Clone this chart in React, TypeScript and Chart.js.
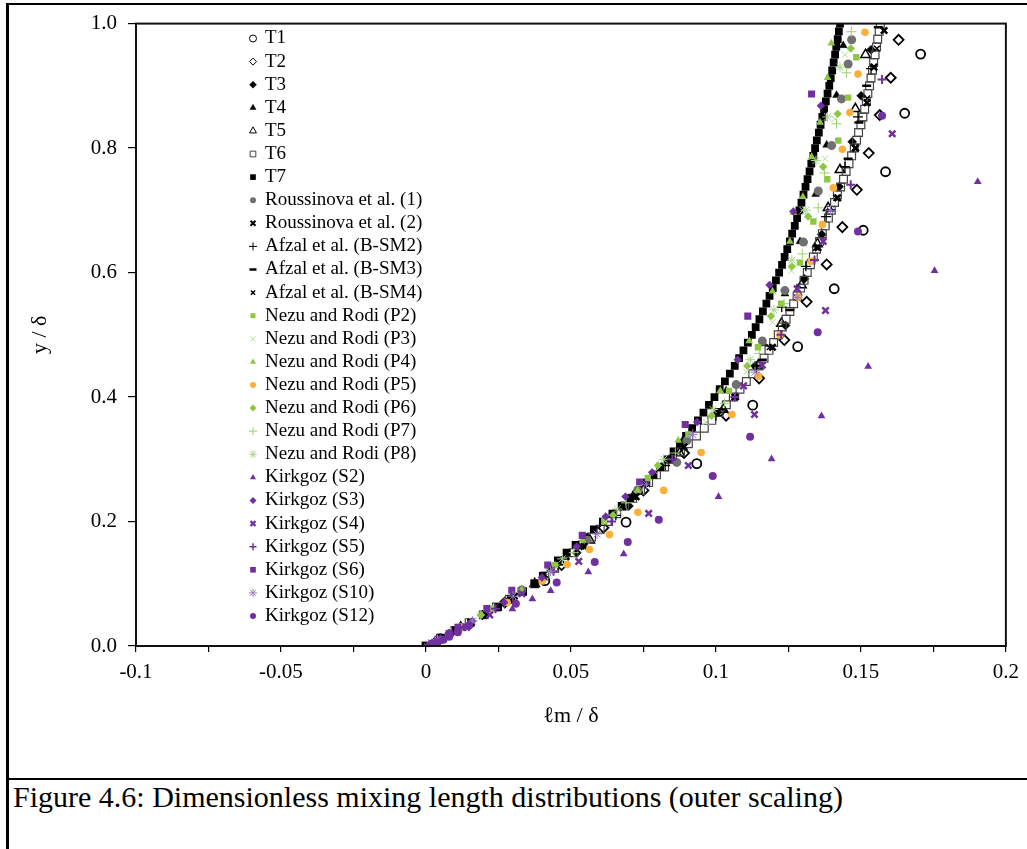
import React, { useEffect, useRef } from 'react';
import { Chart, registerables } from 'chart.js';
import { drawPoint } from 'chart.js/helpers';

Chart.register(...registerables);

// ---------- data ----------
const t67Y = [
  0.0, 0.0125, 0.025, 0.0375, 0.05, 0.0625, 0.075, 0.0875, 0.1, 0.1125, 0.125, 0.1375, 0.15, 0.1625, 0.175, 0.1875,
  0.2, 0.2125, 0.225, 0.2375, 0.25, 0.2625, 0.275, 0.2875, 0.3, 0.3125, 0.325, 0.3375, 0.35, 0.3625, 0.375, 0.3875,
  0.4, 0.4125, 0.425, 0.4375, 0.45, 0.4625, 0.475, 0.4875, 0.5, 0.5125, 0.525, 0.5375, 0.55, 0.5625, 0.575, 0.5875,
  0.6, 0.6125, 0.625, 0.6375, 0.65, 0.6625, 0.675, 0.6875, 0.7, 0.7125, 0.725, 0.7375, 0.75, 0.7625, 0.775, 0.7875,
  0.8, 0.8125, 0.825, 0.8375, 0.85, 0.8625, 0.875, 0.8875, 0.9, 0.9125, 0.925, 0.9375, 0.95, 0.9625, 0.975, 0.9875, 1.0,
];
const t7X = [
  0.0, 0.0051, 0.0103, 0.0155, 0.0203, 0.0249, 0.0293, 0.0335, 0.0375, 0.0403, 0.043, 0.0455, 0.0485, 0.0516, 0.0548, 0.0579,
  0.061, 0.0643, 0.0675, 0.0704, 0.0733, 0.076, 0.0785, 0.0808, 0.0832, 0.0854, 0.0876, 0.0897, 0.0918, 0.0938, 0.0957, 0.0976,
  0.0995, 0.1013, 0.1031, 0.1048, 0.1065, 0.108, 0.1095, 0.111, 0.1124, 0.1137, 0.115, 0.1162, 0.1174, 0.1185, 0.1196, 0.1207,
  0.1218, 0.1228, 0.1237, 0.1246, 0.1255, 0.1263, 0.1272, 0.128, 0.1288, 0.1295, 0.1302, 0.1309, 0.1316, 0.1323, 0.1329, 0.1336,
  0.1342, 0.1348, 0.1355, 0.1361, 0.1367, 0.1373, 0.1379, 0.1385, 0.1391, 0.1396, 0.1401, 0.1406, 0.1411, 0.1415, 0.142, 0.1424, 0.1428,
];
const t6X = [
  0.0, 0.005, 0.01, 0.0149, 0.0198, 0.0243, 0.0288, 0.0332, 0.0375, 0.041, 0.0444, 0.0477, 0.051, 0.0541, 0.0571, 0.0601,
  0.063, 0.0658, 0.0685, 0.0713, 0.074, 0.0768, 0.0795, 0.0823, 0.085, 0.0878, 0.0905, 0.0933, 0.096, 0.0986, 0.1011, 0.1036,
  0.106, 0.1083, 0.1105, 0.1127, 0.1148, 0.1166, 0.1183, 0.1199, 0.1215, 0.1229, 0.1242, 0.1255, 0.1268, 0.128, 0.1292, 0.1304,
  0.1315, 0.1326, 0.1336, 0.1347, 0.1357, 0.1367, 0.1377, 0.1388, 0.1398, 0.1409, 0.1419, 0.143, 0.144, 0.1449, 0.1459, 0.1468,
  0.1477, 0.1485, 0.1492, 0.15, 0.1507, 0.1513, 0.1519, 0.1524, 0.153, 0.1535, 0.154, 0.1544, 0.1549, 0.1554, 0.1558, 0.1563, 0.1567,
];
const t1X = [0.005, 0.041, 0.069, 0.0934, 0.1127, 0.1282, 0.1408, 0.1508, 0.1585, 0.1651, 0.1706];
const t1Y = [0.012, 0.105, 0.199, 0.293, 0.387, 0.481, 0.574, 0.668, 0.762, 0.856, 0.951];
const t2X = [0.0041, 0.0272, 0.0468, 0.0612, 0.075, 0.089, 0.1035, 0.1149, 0.1236, 0.1313, 0.1382, 0.1436, 0.1486, 0.1527, 0.1565, 0.1603, 0.163];
const t2Y = [0.01, 0.07, 0.13, 0.19, 0.25, 0.31, 0.37, 0.43, 0.4915, 0.553, 0.613, 0.673, 0.733, 0.792, 0.853, 0.913, 0.974];
const t3X = [0.0041, 0.029, 0.052, 0.07, 0.085, 0.1005, 0.1135, 0.124, 0.1305, 0.1365, 0.1425, 0.147, 0.1501, 0.1535];
const t3Y = [0.01, 0.075, 0.15, 0.225, 0.3, 0.375, 0.45, 0.515, 0.59, 0.661, 0.738, 0.81, 0.884, 0.958];
const t4X = [0.004, 0.033, 0.0555, 0.0735, 0.0885, 0.1035, 0.1164, 0.1238, 0.129, 0.1344, 0.1382, 0.1416, 0.1439];
const t4Y = [0.01, 0.09, 0.17, 0.25, 0.33, 0.41, 0.486, 0.566, 0.65, 0.726, 0.805, 0.885, 0.965];
const t5X = [0.012, 0.0375, 0.0565, 0.0715, 0.0875, 0.1025, 0.1145, 0.1226, 0.1295, 0.135, 0.1387, 0.1428, 0.1481, 0.1516];
const t5Y = [0.03, 0.1, 0.17, 0.24, 0.31, 0.38, 0.45, 0.518, 0.58, 0.646, 0.704, 0.765, 0.863, 0.95];
const r1X = [0.012, 0.033, 0.0555, 0.073, 0.0865, 0.09, 0.107, 0.116, 0.1238, 0.1302, 0.1353, 0.1399, 0.1433, 0.1456, 0.1468];
const r1Y = [0.03, 0.09, 0.17, 0.25, 0.295, 0.33, 0.42, 0.49, 0.571, 0.649, 0.731, 0.804, 0.879, 0.935, 0.974];
const r2X = [0.0083, 0.0305, 0.0545, 0.0725, 0.089, 0.1065, 0.1195, 0.1285, 0.1352, 0.142, 0.1482, 0.1521, 0.1545, 0.158];
const r2Y = [0.02, 0.08, 0.16, 0.24, 0.32, 0.4, 0.48, 0.56, 0.64, 0.72, 0.8, 0.873, 0.93, 0.989];
const a2X = [0.0195, 0.0455, 0.0655, 0.0825, 0.1, 0.114, 0.1227, 0.131, 0.138, 0.1445, 0.149, 0.1535];
const a2Y = [0.05, 0.13, 0.21, 0.29, 0.37, 0.45, 0.5446, 0.61, 0.69, 0.77, 0.85, 0.9275];
const a3X = [0.0225, 0.048, 0.0675, 0.0845, 0.102, 0.116, 0.1255, 0.133, 0.1395, 0.1456, 0.1493, 0.152, 0.156];
const a3Y = [0.06, 0.14, 0.22, 0.3, 0.38, 0.46, 0.54, 0.62, 0.7, 0.783, 0.841, 0.9, 0.994];
const a4X = [0.03, 0.0535, 0.072, 0.089, 0.107, 0.1185, 0.128, 0.1345, 0.1415, 0.1478, 0.1522, 0.1555];
const a4Y = [0.08, 0.16, 0.24, 0.32, 0.4, 0.48, 0.56, 0.64, 0.72, 0.8, 0.88, 0.96];
const p2X = [0.0225, 0.0445, 0.0615, 0.0765, 0.0905, 0.1045, 0.1145, 0.1225, 0.129, 0.1336, 0.1384, 0.1422, 0.1456, 0.1484];
const p2Y = [0.06, 0.13, 0.2, 0.27, 0.34, 0.41, 0.48, 0.55, 0.616, 0.682, 0.75, 0.812, 0.881, 0.946];
const p3X = [0.0185, 0.0425, 0.062, 0.079, 0.0965, 0.1105, 0.1195, 0.126, 0.13, 0.1376, 0.141, 0.1445];
const p3Y = [0.05, 0.12, 0.2, 0.28, 0.36, 0.44, 0.52, 0.603, 0.7, 0.783, 0.847, 0.95];
const p4X = [0.008, 0.033, 0.054, 0.073, 0.087, 0.1015, 0.1115, 0.1195, 0.1255, 0.1267, 0.13, 0.133, 0.1359, 0.1385, 0.1398];
const p4Y = [0.02, 0.09, 0.17, 0.25, 0.33, 0.41, 0.49, 0.57, 0.65, 0.696, 0.722, 0.786, 0.841, 0.913, 0.9686];
const p5X = [0.012, 0.028, 0.0401, 0.0487, 0.0564, 0.0633, 0.0731, 0.082, 0.0949, 0.1055, 0.1147, 0.1221, 0.1284, 0.1328, 0.1367, 0.1405, 0.1436, 0.1462, 0.149, 0.1514];
const p5Y = [0.03, 0.07, 0.1045, 0.131, 0.155, 0.179, 0.215, 0.25, 0.311, 0.372, 0.4333, 0.4995, 0.5605, 0.618, 0.677, 0.736, 0.798, 0.857, 0.919, 0.986];
const p6X = [0.019, 0.0445, 0.0645, 0.08, 0.0985, 0.1108, 0.119, 0.1262, 0.1318, 0.137, 0.142, 0.1465];
const p6Y = [0.05, 0.13, 0.21, 0.29, 0.37, 0.45, 0.53, 0.61, 0.69, 0.77, 0.855, 0.96];
const p7X = [0.027, 0.051, 0.069, 0.086, 0.103, 0.115, 0.1235, 0.1298, 0.1353, 0.1375, 0.1416, 0.145, 0.1467];
const p7Y = [0.07, 0.15, 0.23, 0.31, 0.39, 0.47, 0.55, 0.63, 0.704, 0.76, 0.839, 0.921, 0.987];
const p8X = [0.022, 0.047, 0.066, 0.082, 0.099, 0.1118, 0.12, 0.1262, 0.131, 0.1345, 0.1385, 0.1428];
const p8Y = [0.06, 0.14, 0.22, 0.3, 0.38, 0.46, 0.54, 0.62, 0.7, 0.78, 0.85, 0.93];
const s2X = [0.004, 0.013, 0.0298, 0.0367, 0.043, 0.056, 0.0682, 0.1009, 0.1192, 0.1364, 0.1525, 0.1754, 0.1903];
const s2Y = [0.01, 0.03, 0.0595, 0.0754, 0.0886, 0.1188, 0.148, 0.2397, 0.3006, 0.3696, 0.449, 0.603, 0.746];
const s3X = [0.002, 0.005, 0.008, 0.016, 0.027, 0.04, 0.052, 0.062, 0.0688, 0.078, 0.0935, 0.1075, 0.1185, 0.1267, 0.1362];
const s3Y = [0.005, 0.012, 0.02, 0.04, 0.07, 0.11, 0.16, 0.208, 0.24, 0.279, 0.36, 0.46, 0.58, 0.698, 0.868];
const s4X = [0.004, 0.008, 0.014, 0.022, 0.0331, 0.0527, 0.0768, 0.0905, 0.1133, 0.1095, 0.116, 0.1378, 0.128, 0.137, 0.1608];
const s4Y = [0.008, 0.018, 0.03, 0.05, 0.084, 0.136, 0.213, 0.29, 0.372, 0.418, 0.451, 0.539, 0.574, 0.65, 0.823];
const s5X = [0.003, 0.008, 0.024, 0.044, 0.064, 0.085, 0.1065, 0.1225, 0.134, 0.1465, 0.1573];
const s5Y = [0.006, 0.02, 0.06, 0.12, 0.2, 0.3, 0.4, 0.5, 0.62, 0.741, 0.91];
const s6X = [0.002, 0.004, 0.008, 0.011, 0.021, 0.0296, 0.042, 0.0539, 0.0737, 0.0894, 0.111, 0.133];
const s6Y = [0.004, 0.01, 0.02, 0.03, 0.06, 0.0897, 0.13, 0.1777, 0.2636, 0.356, 0.53, 0.887];
const s10X = [0.001, 0.004, 0.016, 0.03, 0.043, 0.059, 0.076, 0.092, 0.1135, 0.128, 0.1395];
const s10Y = [0.003, 0.01, 0.04, 0.08, 0.12, 0.18, 0.26, 0.34, 0.44, 0.56, 0.7];
const s12X = [0.002, 0.004, 0.006, 0.008, 0.011, 0.0149, 0.031, 0.0451, 0.0582, 0.0696, 0.0803, 0.0989, 0.1118, 0.1351, 0.149, 0.1573];
const s12Y = [0.003, 0.006, 0.01, 0.015, 0.022, 0.033, 0.068, 0.102, 0.135, 0.167, 0.203, 0.273, 0.336, 0.504, 0.666, 0.852];

const xTickStep = 0.025;
const xLabelStep = 0.05;
const yTickStep = 0.2;

// ---------- styles ----------
const NONE = 'rgba(0,0,0,0)';
const BLACK = '#000000';
const GRAY = '#707070';
const GREEN = '#8dc641';
const ORANGE = '#fbb03b';
const PURPLE = '#7030a0';

type S = {
  label: string; xs: number[]; ys: number[]; style: string; r: number;
  fill: string; stroke: string; bw: number; lr: number; lbw: number;
};

const series: S[] = [
  { label: 'T1', xs: t1X, ys: t1Y, style: 'circle', r: 4.5, fill: NONE, stroke: BLACK, bw: 1.8, lr: 3.5, lbw: 1 },
  { label: 'T2', xs: t2X, ys: t2Y, style: 'rectRot', r: 5, fill: NONE, stroke: BLACK, bw: 1.8, lr: 3.5, lbw: 1 },
  { label: 'T3', xs: t3X, ys: t3Y, style: 'rectRot', r: 4.5, fill: BLACK, stroke: BLACK, bw: 0.5, lr: 3.5, lbw: 0.5 },
  { label: 'T4', xs: t4X, ys: t4Y, style: 'triangle', r: 4.5, fill: BLACK, stroke: BLACK, bw: 0.5, lr: 3.5, lbw: 0.5 },
  { label: 'T5', xs: t5X, ys: t5Y, style: 'triangle', r: 5.5, fill: NONE, stroke: BLACK, bw: 1.5, lr: 4, lbw: 1 },
  { label: 'T6', xs: t6X, ys: t67Y, style: 'rect', r: 5.5, fill: NONE, stroke: '#444444', bw: 1.2, lr: 4, lbw: 1 },
  { label: 'T7', xs: t7X, ys: t67Y, style: 'rect', r: 5.5, fill: BLACK, stroke: BLACK, bw: 0, lr: 4, lbw: 0 },
  { label: 'Roussinova et al. (1)', xs: r1X, ys: r1Y, style: 'circle', r: 4.5, fill: GRAY, stroke: GRAY, bw: 0, lr: 3, lbw: 0 },
  { label: 'Roussinova et al. (2)', xs: r2X, ys: r2Y, style: 'crossRot', r: 4.5, fill: BLACK, stroke: BLACK, bw: 2.5, lr: 3.5, lbw: 2 },
  { label: 'Afzal et al. (B-SM2)', xs: a2X, ys: a2Y, style: 'cross', r: 5, fill: BLACK, stroke: BLACK, bw: 1.3, lr: 4, lbw: 1 },
  { label: 'Afzal et al. (B-SM3)', xs: a3X, ys: a3Y, style: 'line', r: 4.5, fill: BLACK, stroke: BLACK, bw: 2.5, lr: 3.5, lbw: 2.5 },
  { label: 'Afzal et al. (B-SM4)', xs: a4X, ys: a4Y, style: 'crossRot', r: 4, fill: BLACK, stroke: BLACK, bw: 1.5, lr: 3, lbw: 1.5 },
  { label: 'Nezu and Rodi (P2)', xs: p2X, ys: p2Y, style: 'rect', r: 4.5, fill: GREEN, stroke: GREEN, bw: 0, lr: 3.5, lbw: 0 },
  { label: 'Nezu and Rodi (P3)', xs: p3X, ys: p3Y, style: 'crossRot', r: 4.5, fill: '#b8dc90', stroke: '#b8dc90', bw: 1, lr: 3.5, lbw: 1 },
  { label: 'Nezu and Rodi (P4)', xs: p4X, ys: p4Y, style: 'triangle', r: 4.5, fill: GREEN, stroke: GREEN, bw: 0, lr: 3.5, lbw: 0 },
  { label: 'Nezu and Rodi (P5)', xs: p5X, ys: p5Y, style: 'circle', r: 3.8, fill: ORANGE, stroke: ORANGE, bw: 0, lr: 3, lbw: 0 },
  { label: 'Nezu and Rodi (P6)', xs: p6X, ys: p6Y, style: 'rectRot', r: 4.2, fill: GREEN, stroke: GREEN, bw: 0, lr: 3.5, lbw: 0 },
  { label: 'Nezu and Rodi (P7)', xs: p7X, ys: p7Y, style: 'cross', r: 5, fill: '#9dcf70', stroke: '#9dcf70', bw: 1, lr: 4, lbw: 1 },
  { label: 'Nezu and Rodi (P8)', xs: p8X, ys: p8Y, style: 'star', r: 5, fill: '#a9d48c', stroke: '#a9d48c', bw: 1, lr: 4, lbw: 1 },
  { label: 'Kirkgoz (S2)', xs: s2X, ys: s2Y, style: 'triangle', r: 4.5, fill: PURPLE, stroke: PURPLE, bw: 0, lr: 3.5, lbw: 0 },
  { label: 'Kirkgoz (S3)', xs: s3X, ys: s3Y, style: 'rectRot', r: 4.2, fill: PURPLE, stroke: PURPLE, bw: 0, lr: 3.5, lbw: 0 },
  { label: 'Kirkgoz (S4)', xs: s4X, ys: s4Y, style: 'crossRot', r: 4.5, fill: PURPLE, stroke: PURPLE, bw: 2.5, lr: 3.5, lbw: 2.2 },
  { label: 'Kirkgoz (S5)', xs: s5X, ys: s5Y, style: 'cross', r: 4.5, fill: PURPLE, stroke: PURPLE, bw: 2, lr: 3.5, lbw: 1.5 },
  { label: 'Kirkgoz (S6)', xs: s6X, ys: s6Y, style: 'rect', r: 5, fill: PURPLE, stroke: PURPLE, bw: 0, lr: 4, lbw: 0 },
  { label: 'Kirkgoz (S10)', xs: s10X, ys: s10Y, style: 'star', r: 5, fill: '#9a7cc6', stroke: '#9a7cc6', bw: 1, lr: 4, lbw: 1 },
  { label: 'Kirkgoz (S12)', xs: s12X, ys: s12Y, style: 'circle', r: 4, fill: PURPLE, stroke: PURPLE, bw: 0, lr: 3, lbw: 0 },
];

const SERIF = '"Liberation Serif", "Times New Roman", serif';
const LEGEND_X = 253;
const LEGEND_TEXT_X = 265;
const LEGEND_TOP = 38.5;
const LEGEND_STEP = 23.1;

const legendPlugin = {
  id: 'insideLegend',
  afterDraw(chart: any) {
    const ctx = chart.ctx;
    ctx.save();
    series.forEach((s, i) => {
      const y = LEGEND_TOP + i * LEGEND_STEP;
      ctx.fillStyle = s.fill;
      ctx.strokeStyle = s.stroke;
      ctx.lineWidth = s.lbw;
      drawPoint(ctx, { pointStyle: s.style as any, radius: s.lr, borderWidth: s.lbw, rotation: 0 }, LEGEND_X, y);
      ctx.fillStyle = '#000';
      ctx.font = `19px ${SERIF}`;
      ctx.textAlign = 'left';
      ctx.textBaseline = 'middle';
      ctx.fillText(s.label, LEGEND_TEXT_X, y);
    });
    ctx.restore();
  },
};

const framePlugin = {
  id: 'plotFrame',
  afterDraw(chart: any) {
    const { ctx, chartArea } = chart;
    ctx.save();
    ctx.strokeStyle = '#111';
    ctx.lineWidth = 2;
    ctx.strokeRect(chartArea.left, chartArea.top, chartArea.right - chartArea.left, chartArea.bottom - chartArea.top);
    ctx.restore();
  },
};

export default function App() {
  const ref = useRef<HTMLCanvasElement | null>(null);

  useEffect(() => {
    if (!ref.current) return;
    const n = series.length;
    const chart = new Chart(ref.current, {
      type: 'scatter',
      data: {
        datasets: series.map((s, i) => ({
          label: s.label,
          data: s.xs.map((x, k) => ({ x, y: s.ys[k] })),
          pointStyle: s.style as any,
          pointRadius: s.r,
          pointHoverRadius: s.r,
          pointBackgroundColor: s.fill,
          pointBorderColor: s.stroke,
          pointBorderWidth: s.bw,
          showLine: false,
          order: n - i,
        })),
      },
      options: {
        responsive: false,
        animation: false,
        events: [],
        layout: { padding: { left: 0, right: 19, top: 17, bottom: 0 } },
        plugins: { legend: { display: false }, tooltip: { enabled: false } },
        scales: {
          x: {
            type: 'linear',
            min: -0.1,
            max: 0.2,
            ticks: {
              stepSize: xTickStep,
              autoSkip: false,
              maxRotation: 0,
              padding: 8,
              color: '#000',
              font: { family: SERIF, size: 21 },
              callback: (value: any) => {
                const v = Number(value);
                const k = Math.round(v / xLabelStep);
                if (Math.abs(k * xLabelStep - v) > 1e-6) return '';
                return String(parseFloat((k * xLabelStep).toFixed(2)));
              },
            },
            grid: { display: true, drawOnChartArea: false, drawTicks: true, tickLength: 6, color: '#000', lineWidth: 1.2 },
            border: { display: false },
            title: {
              display: true,
              text: 'ℓm / δ',
              color: '#000',
              font: { family: SERIF, size: 22 },
              padding: { top: 0, bottom: 17 },
            },
            afterFit: (scale: any) => { scale.height = 100; },
          },
          y: {
            type: 'linear',
            min: 0,
            max: 1,
            ticks: {
              stepSize: yTickStep,
              padding: 11,
              color: '#000',
              font: { family: SERIF, size: 21 },
              callback: (value: any) => Number(value).toFixed(1),
            },
            grid: { display: true, drawOnChartArea: false, drawTicks: true, tickLength: 8, color: '#000', lineWidth: 1.2 },
            border: { display: false },
            title: {
              display: true,
              text: 'y / δ',
              color: '#000',
              font: { family: SERIF, size: 22 },
              padding: { top: 27, bottom: 0 },
            },
            afterFit: (scale: any) => { scale.width = 136; },
          },
        },
      },
      plugins: [framePlugin, legendPlugin],
    });
    return () => chart.destroy();
  }, []);

  return (
    <div style={{ position: 'absolute', left: 0, top: 0, width: 1027, height: 849, background: '#fff', overflow: 'hidden' }}>
      <div style={{ position: 'absolute', left: 6, top: 3, width: 1030, height: 860, borderLeft: '3px solid #000', borderTop: '2px solid #000', boxSizing: 'border-box' }} />
      <div style={{ position: 'absolute', left: 6, top: 778, width: 1030, height: 0, borderTop: '2px solid #000' }} />
      <canvas ref={ref} width={1027} height={746} style={{ position: 'absolute', left: 0, top: 0 }} />
      <div style={{ position: 'absolute', left: 13, top: 780, height: 34, lineHeight: '34px', fontFamily: SERIF, fontSize: 30, color: '#000', whiteSpace: 'nowrap' }}>
        Figure 4.6: Dimensionless mixing length distributions (outer scaling)
      </div>
    </div>
  );
}
